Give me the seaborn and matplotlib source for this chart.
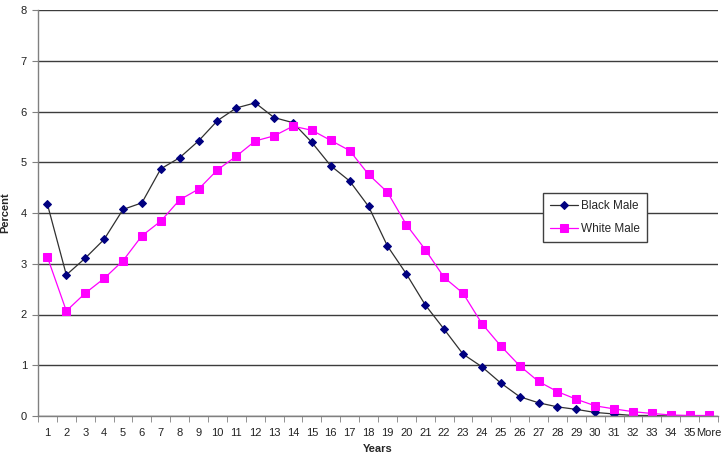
import matplotlib
matplotlib.use("Agg")
import matplotlib.pyplot as plt
from matplotlib.ticker import FixedLocator
import seaborn as sns
import pandas as pd
import numpy as np

years = [str(i) for i in range(1, 36)] + ["More"]
black_male = [4.17, 2.78, 3.11, 3.48, 4.07, 4.20, 4.87, 5.09, 5.42, 5.82,
              6.07, 6.17, 5.88, 5.78, 5.39, 4.93, 4.63, 4.13, 3.35, 2.80,
              2.19, 1.71, 1.22, 0.97, 0.65, 0.38, 0.26, 0.18, 0.13, 0.07,
              0.04, 0.01, 0.01, 0.0, 0.0, 0.0]
white_male = [3.13, 2.07, 2.42, 2.71, 3.06, 3.55, 3.84, 4.26, 4.47, 4.85,
              5.12, 5.42, 5.52, 5.71, 5.63, 5.43, 5.23, 4.76, 4.41, 3.77,
              3.28, 2.73, 2.42, 1.82, 1.38, 0.99, 0.68, 0.48, 0.33, 0.20,
              0.14, 0.085, 0.05, 0.02, 0.01, 0.01]

sns.set_style("white")
plt.rcParams['font.family'] = ['Liberation Sans', 'DejaVu Sans']

W, H = 726, 459
fig = plt.figure(figsize=(W / 100, H / 100), dpi=100)
ax = fig.add_axes([38 / W, 1 - 416 / H, 680 / W, 406 / H])

pos = np.arange(len(years))
df = pd.DataFrame({"pos": pos, "Black Male": black_male, "White Male": white_male})

ax.yaxis.grid(True, color='#3c3c3c', lw=1)
ax.set_axisbelow(True)

sns.lineplot(data=df, x="pos", y="Black Male", ax=ax, color='#303030', lw=0.9,
             marker='D', markersize=4.5, markerfacecolor='#000080',
             markeredgecolor='#000080', label="Black Male")
sns.lineplot(data=df, x="pos", y="White Male", ax=ax, color='#FF00FF', lw=0.9,
             marker='s', markersize=6, markerfacecolor='#FF00FF',
             markeredgecolor='#FF00FF', label="White Male")

ax.set_xlim(-0.5, len(years) - 0.5)
ax.set_ylim(0, 8)
ax.set_xticks(pos)
ax.set_xticklabels(years)
ax.xaxis.set_minor_locator(FixedLocator(np.arange(-0.5, len(years), 1.0)))
ax.tick_params(axis='x', which='major', length=0, labelsize=8, pad=9, colors='#222222')
ax.tick_params(axis='x', which='minor', length=4, direction='out', color='#808080', bottom=True)
ax.set_yticks(range(0, 9))
ax.tick_params(axis='y', length=4, direction='out', color='#808080', labelsize=8,
               colors='#222222', left=True, pad=4)

for s in ['top', 'right']:
    ax.spines[s].set_visible(False)
for s in ['left', 'bottom']:
    ax.spines[s].set_color('#808080')
    ax.spines[s].set_linewidth(1)

ax.set_xlabel("Years", fontsize=8, fontweight='bold', labelpad=4)
ax.set_ylabel("Percent", fontsize=8, fontweight='bold')
ax.yaxis.set_label_coords((10 - 38) / 680, 0.5)

leg = ax.legend(loc='upper left', bbox_to_anchor=((543 - 38) / 680, (416 - 193) / 406),
                borderaxespad=0, frameon=True, fancybox=False, fontsize=8.5,
                borderpad=0.6, handlelength=2.4, labelspacing=0.9, handletextpad=0.2)
leg.get_frame().set_edgecolor('#404040')
leg.get_frame().set_linewidth(1)
leg.get_frame().set_alpha(1)

fig.savefig("out.png", dpi=100)
